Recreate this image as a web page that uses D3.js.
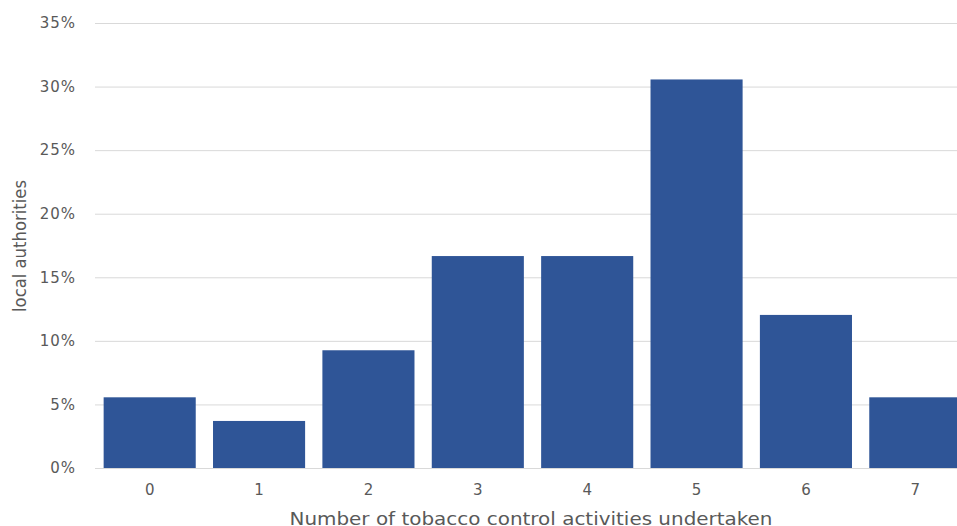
<!DOCTYPE html>
<html><head><meta charset="utf-8">
<script src="https://cdn.jsdelivr.net/npm/d3@7"></script>
<style>html,body{margin:0;padding:0;background:#fff;overflow:hidden}</style>
</head><body>
<svg id="c" width="957" height="526"></svg>
<script>
const categories = ["0","1","2","3","4","5","6","7"];
const values = [5.56, 3.70, 9.26, 16.67, 16.67, 30.56, 12.04, 5.56];
const yTicks = [0,5,10,15,20,25,30,35];
const xTitle = "Number of tobacco control activities undertaken";
const yTitle = "local authorities";

const svg = d3.select("#c");
const x = d3.scaleBand().domain(categories).range([95, 970]).paddingInner(0.158).paddingOuter(0.079);
const y = d3.scaleLinear().domain([0,35]).range([468, 23]);
const textCol = "#595959";
const font = "'DejaVu Sans', sans-serif";

svg.append("g").selectAll("line").data(yTicks).join("line")
  .attr("x1", 95).attr("x2", 957)
  .attr("y1", d => y(d)+0.5).attr("y2", d => y(d)+0.5)
  .attr("stroke", "#d9d9d9").attr("stroke-width", 1);

svg.append("g").selectAll("rect").data(values).join("rect")
  .attr("x", (d,i) => x(categories[i]))
  .attr("width", x.bandwidth())
  .attr("y", d => y(d))
  .attr("height", d => y(0) - y(d))
  .attr("fill", "#2f5597");

const yAxis = d3.axisLeft(y).tickValues(yTicks).tickFormat(d => d + "%").tickSize(0).tickPadding(0);
const ga = svg.append("g").attr("transform", "translate(76,0)").call(yAxis);
ga.select(".domain").remove();
ga.selectAll("text").attr("fill", textCol).style("font-family", font).style("font-size", "15px")
  .style("letter-spacing", "1px");

const xAxis = d3.axisBottom(x).tickSize(0).tickPadding(0);
const gx = svg.append("g").attr("transform", "translate(0,484)").call(xAxis);
gx.select(".domain").remove();
gx.selectAll("text").attr("fill", textCol).style("font-family", font).style("font-size", "15px");

svg.append("text").attr("x", 531).attr("y", 525).attr("text-anchor", "middle")
  .attr("fill", textCol).style("font-family", font).style("font-size", "17px")
  .attr("textLength", 483).attr("lengthAdjust", "spacingAndGlyphs").text(xTitle);

svg.append("text").attr("transform", "translate(26,246) rotate(-90)").attr("text-anchor", "middle")
  .attr("fill", textCol).style("font-family", font).style("font-size", "17px")
  .attr("textLength", 132).attr("lengthAdjust", "spacingAndGlyphs").text(yTitle);
</script>
</body></html>
